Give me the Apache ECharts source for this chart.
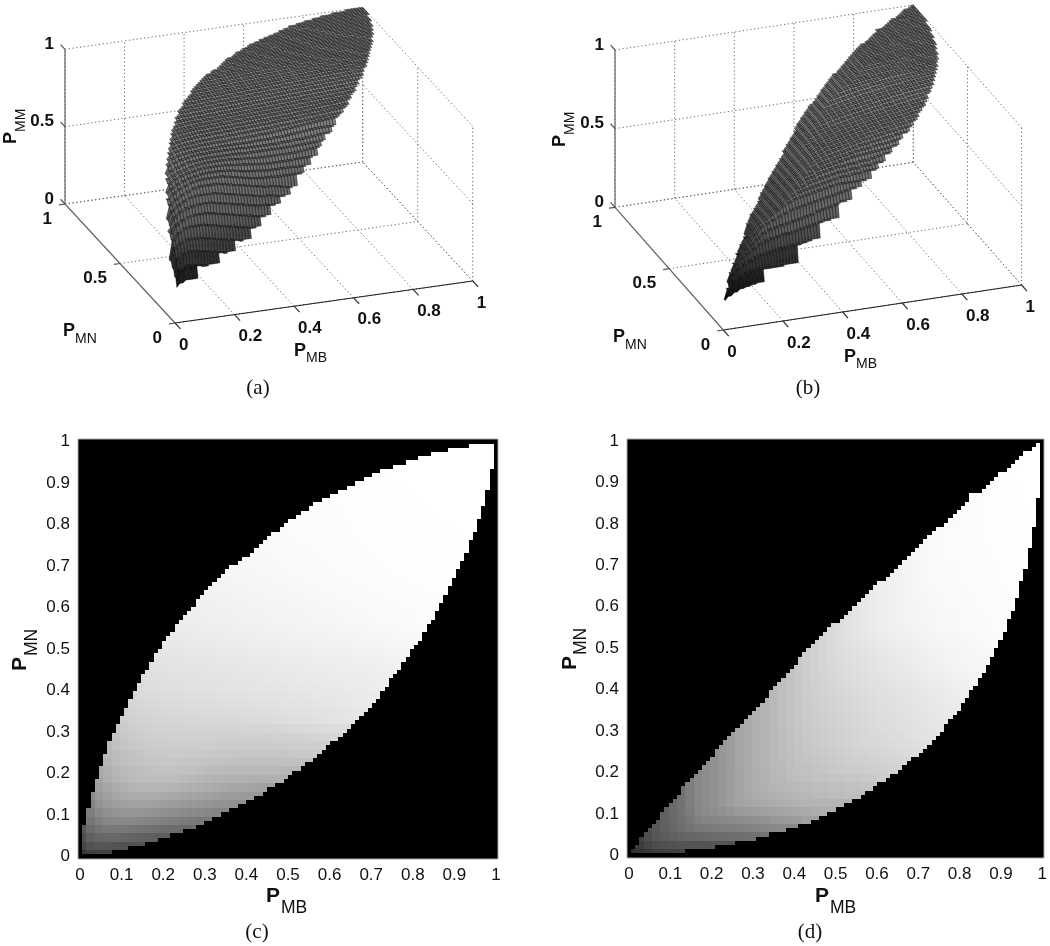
<!DOCTYPE html>
<html>
<head>
<meta charset="utf-8">
<title>P_MM surfaces</title>
<script src="https://cdn.jsdelivr.net/npm/echarts@6/dist/echarts.min.js"></script>
<style>
  html, body { margin: 0; padding: 0; background: #fff; }
  #chart { width: 1050px; height: 946px; }
</style>
</head>
<body>
<div id="chart"></div>
<script>
// tick labels
var flatTicks = [0, 0.1, 0.2, 0.3, 0.4, 0.5, 0.6, 0.7, 0.8, 0.9, 1];
var mbTicks = [0, 0.2, 0.4, 0.6, 0.8, 1];
var mnTicks = [0, 0.5, 1];
var mmTicks = [0, 0.5, 1];

// first and one-past-last filled row of each of the 100 columns
var hiC = [0,8,12,16,19,22,25,28,30,32,34,36,38,40,42,44,45,47,49,50,52,53,54,56,57,58,59,60,62,63,64,65,66,67,68,69,70,70,71,72,72,73,74,75,76,77,78,78,79,80,81,81,82,83,83,84,85,85,86,86,87,87,88,88,89,89,90,90,91,91,92,92,93,93,93,94,94,94,95,95,95,96,96,96,97,97,97,97,98,98,98,98,98,99,99,99,99,99,99,0];
var loC = [0,1,1,1,1,1,1,1,2,2,2,2,3,3,3,3,4,4,4,5,5,5,6,6,6,7,7,7,8,8,9,9,10,10,11,11,12,12,13,13,14,14,15,15,16,17,17,18,18,19,20,21,21,22,23,23,24,25,26,27,28,28,29,30,31,32,33,34,35,36,37,38,40,41,43,44,45,47,48,50,51,52,54,56,57,59,61,63,65,67,69,71,73,76,78,81,84,88,93,0];
// same for panel (d)
var hiD = [0,2,3,5,6,7,8,9,11,12,13,14,15,17,18,19,20,21,22,23,24,26,27,28,29,30,31,32,33,34,35,36,37,38,40,41,42,43,44,45,46,48,49,50,51,52,53,54,55,56,56,57,58,59,60,61,62,63,64,65,66,66,67,68,69,70,71,72,73,74,75,76,77,78,79,79,80,81,82,83,84,85,87,87,87,88,89,90,91,92,92,93,94,95,96,97,97,98,99,0];
var loD = [0,1,1,1,1,1,1,1,1,1,1,1,1,1,2,2,2,2,2,2,2,3,3,3,3,3,4,4,4,4,4,5,5,5,6,6,6,6,7,7,7,8,8,8,9,9,10,10,11,11,12,12,13,13,14,14,15,16,16,17,18,18,19,20,20,21,22,23,24,24,25,26,27,28,29,30,32,33,34,35,37,38,40,41,43,44,46,48,50,52,54,57,59,62,66,69,74,79,86,0];

// grey readings (hex, 00-ff = 0-1) in 2x2 blocks, bottom row first; each row starts at its listed block
var startC = [0,0,0,0,1,1,1,1,2,2,2,3,3,3,4,4,5,5,6,6,7,7,8,8,9,10,10,11,12,13,14,14,15,16,17,19,20,21,22,23,25,26,28,30,32,34,36,39,42,46];
var greyC = [
  '38 3e 42 42',
  '46 52 56 56 54 52',
  '50 60 66 68 68 66 64 62 60 5e',
  '58 6c 74 78 78 78 76 74 72 70 6e 6c 6a',
  '76 80 86 88 88 88 86 84 82 80 7e 7c 7a 78',
  '7e 8a 90 94 96 96 96 94 92 90 8e 8c 8a 88 86 84',
  '84 92 9a 9e a0 a2 a2 a2 a0 9e 9c 9a 98 96 94 92 92 90',
  '8a 98 a0 a6 aa ac ac ac ac aa a8 a6 a4 a2 a0 9e 9c 9c 9a 98',
  '9e a6 ac b0 b4 b6 b6 b6 b6 b4 b2 b0 ae ac aa a8 a6 a6 a4 a2 a0',
  'a4 ac b2 b6 ba bc bd bd bd bd bb b9 b7 b5 b3 b2 b1 b1 b0 b0 b0 b0 b0',
  'a8 b0 b6 ba bd bf c1 c2 c2 c2 c1 c0 be bc bb ba b9 b8 b8 b8 b8 b8 b7 b7',
  'b4 ba be c1 c3 c5 c6 c6 c6 c6 c5 c4 c3 c2 c1 c0 bf bf bf bf bf c0 c0 c0',
  'b8 bc c0 c3 c6 c8 c9 ca ca ca ca c9 c8 c8 c7 c6 c6 c6 c6 c6 c6 c6 c7 c8 c9 ca',
  'ba c0 c4 c7 ca cb cc cd cd cd cd cd cd cc cc cc cc cc cc cc cc cc cd cd ce ce cf',
  'c4 c8 cb cd cf d0 d0 d1 d1 d1 d1 d1 d1 d0 d0 d0 d0 d0 d0 d1 d1 d2 d2 d3 d4 d5 d6',
  'c8 cb ce d0 d1 d2 d3 d3 d3 d4 d4 d4 d4 d4 d4 d5 d5 d5 d6 d6 d7 d8 d9 da db dc dc dc',
  'ce d1 d3 d4 d5 d6 d6 d7 d7 d7 d8 d8 d8 d9 d9 da da db dc dd de df e0 e1 e2 e3 e4 e5',
  'd0 d3 d5 d6 d7 d8 d9 d9 da da db db dc dc dd dd de de df e0 e0 e1 e2 e3 e3 e4 e5 e6 e6',
  'd5 d7 d9 da db dc dc dd dd de de df df e0 e0 e1 e1 e2 e3 e3 e4 e4 e5 e6 e6 e7 e8 e9 ea',
  'd6 d9 db dc dd de de df df e0 e0 e1 e1 e2 e2 e3 e3 e4 e4 e5 e5 e6 e7 e7 e8 e8 e9 ea ea eb',
  'db dd de df e0 e0 e1 e1 e2 e2 e3 e3 e4 e4 e5 e5 e6 e6 e7 e7 e8 e8 e9 e9 ea eb eb ec ed ee',
  'dc de df e0 e1 e2 e2 e3 e3 e4 e4 e5 e5 e6 e6 e7 e7 e8 e8 e9 e9 ea ea eb eb ec ec ed ed ee ef',
  'e0 e1 e2 e3 e3 e4 e4 e5 e5 e6 e6 e7 e7 e8 e8 e9 e9 ea ea eb eb ec ec ed ed ee ee ef ef f0 f0',
  'e2 e3 e4 e4 e5 e5 e6 e6 e7 e7 e8 e8 e9 e9 ea ea eb eb ec ec ed ed ee ee ef ef f0 f0 f1 f1 f2',
  'e5 e6 e6 e7 e7 e8 e8 e9 e9 ea ea eb eb ec ec ed ed ee ee ef ef f0 f0 f1 f1 f2 f2 f3 f3 f4 f4',
  'e8 e8 e9 e9 ea ea eb eb ec ec ed ed ee ee ef ef f0 f0 f1 f1 f2 f2 f3 f3 f4 f4 f5 f5 f6 f6',
  'e9 ea ea eb eb ec ec ed ed ee ee ef ef f0 f0 f1 f1 f2 f2 f3 f3 f4 f4 f5 f5 f6 f6 f7 f7 f8 f8',
  'eb ec ec ed ed ee ee ef ef f0 f0 f1 f1 f2 f2 f3 f3 f4 f4 f5 f5 f6 f6 f7 f7 f8 f8 f9 f9 fa fa',
  'ed ee ee ef ef f0 f0 f1 f1 f2 f2 f3 f3 f4 f4 f5 f5 f6 f6 f7 f7 f8 f8 f9 f9 fa fa fa fb fb',
  'ef ef f0 f0 f1 f1 f2 f2 f3 f3 f4 f4 f5 f5 f6 f6 f7 f7 f8 f8 f9 f9 fa fa fa fb fb fb fc fc',
  'f0 f1 f1 f2 f2 f3 f3 f4 f4 f5 f5 f6 f6 f7 f7 f8 f8 f9 f9 fa fa fa fb fb fb fc fc fc fc',
  'f1 f2 f2 f3 f3 f4 f4 f5 f5 f6 f6 f7 f7 f8 f8 f9 f9 fa fa fa fb fb fb fc fc fc fc fd fd fd',
  'f3 f3 f4 f4 f5 f5 f6 f6 f7 f7 f8 f8 f9 f9 fa fa fa fb fb fb fc fc fc fc fd fd fd fd fd',
  'f4 f5 f5 f6 f6 f7 f7 f8 f8 f9 f9 fa fa fa fb fb fb fc fc fc fc fd fd fd fd fd fd fe fe',
  'f5 f6 f6 f7 f7 f8 f8 f9 f9 fa fa fa fb fb fb fc fc fc fc fd fd fd fd fd fd fe fe fe',
  'f7 f7 f8 f8 f9 f9 fa fa fa fb fb fb fc fc fc fc fd fd fd fd fd fe fe fe fe fe fe',
  'f8 f8 f9 f9 fa fa fa fb fb fb fc fc fc fc fd fd fd fd fd fe fe fe fe fe fe fe',
  'f9 f9 fa fa fa fb fb fb fc fc fc fc fd fd fd fd fd fe fe fe fe fe fe fe fe fe',
  'fa fa fa fb fb fb fc fc fc fc fd fd fd fd fd fe fe fe fe fe fe fe fe fe ff',
  'fa fa fb fb fb fc fc fc fc fd fd fd fd fd fe fe fe fe fe fe fe fe ff ff ff',
  'fb fb fc fc fc fc fd fd fd fd fd fe fe fe fe fe fe fe ff ff ff ff ff',
  'fb fc fc fc fc fd fd fd fd fd fe fe fe fe fe fe ff ff ff ff ff ff',
  'fc fc fd fd fd fd fd fe fe fe fe fe fe ff ff ff ff ff ff ff ff',
  'fd fd fd fd fe fe fe fe fe fe ff ff ff ff ff ff ff ff ff',
  'fd fd fe fe fe fe fe ff ff ff ff ff ff ff ff ff ff',
  'fe fe fe ff ff ff ff ff ff ff ff ff ff ff ff',
  'ff ff ff ff ff ff ff ff ff ff ff ff ff',
  'ff ff ff ff ff ff ff ff ff ff ff',
  'ff ff ff ff ff ff ff ff',
  'ff ff ff ff'
];
var startD = [0,1,1,2,3,4,5,6,6,7,8,9,10,11,12,13,14,15,16,17,17,18,19,20,21,22,23,24,25,26,27,28,29,31,32,33,34,35,36,37,38,39,40,41,42,43,45,46,47,49];
var greyD = [
  '2d 33 38 3c 3e 40 42',
  '3c 46 4c 50 52 54 54 54 54 54',
  '42 4e 56 5c 60 64 66 68 6a 6c 6c 6e 6e 70 72',
  '4e 58 60 68 6e 74 78 7a 7c 7e 7e 80 82 84 86 88 8a',
  '58 62 6a 70 78 80 84 86 88 8a 8c 8e 90 92 96 98 9a 9c a0',
  '60 6a 72 7c 86 8a 8e 92 96 9a 9c 9e a0 a2 a4 a6 a8 aa ac ae',
  '69 72 7e 88 8c 92 98 9e a2 a6 a8 aa ac ae b0 b2 b4 b4 b4 b4 b4',
  '70 7e 88 8c 92 98 9e a4 a8 ac ae b0 b2 b4 b6 b8 ba ba bc bc be be',
  '70 7e 88 8c 92 98 9e a4 aa ae b0 b4 b6 b8 ba bc be be c0 c0 c2 c2 c4 c4',
  '7e 88 8c 92 98 9e a4 aa ae b2 b6 b8 bc be c0 c2 c2 c4 c4 c6 c6 c8 ca cc',
  '87 8c 92 98 9e a5 aa af b3 b8 ba be c0 c2 c4 c6 c8 ca cb cc cd ce cf d0 d2',
  '8c 92 98 9e a5 aa af b4 b8 bc be c2 c4 c6 c8 ca cc ce cf d0 d2 d3 d4 d6 d7',
  '91 98 9e a5 aa af b4 b9 bd c0 c3 c6 c8 ca cc ce d0 d2 d3 d5 d6 d8 d9 db dc',
  '98 9e a5 aa af b4 b9 bd c1 c4 c7 ca cc ce d0 d2 d4 d6 d7 d9 da dc dd df e0',
  '9e a5 aa af b4 b9 bd c2 c5 c8 cb cd cf d1 d3 d5 d7 d9 da dc dd df e1 e2 e4',
  'a5 aa af b4 b9 be c2 c6 c9 cc ce d0 d2 d4 d6 d8 da dc dd df e0 e2 e3 e5 e6',
  'aa af b4 b9 be c2 c6 ca cc cf d1 d3 d5 d7 d9 db dd de e0 e1 e3 e4 e6 e7 e8',
  'af b4 b9 be c3 c7 ca cd d0 d2 d4 d6 d8 da dc de df e1 e2 e4 e5 e7 e8 ea eb',
  'b4 b9 be c3 c8 cb ce d1 d3 d5 d7 d9 db dd df e0 e2 e3 e5 e6 e8 e9 eb ec',
  'b9 be c3 c8 cc cf d2 d4 d6 d8 da dc de e0 e1 e3 e4 e6 e7 e9 ea ec ed ef',
  'b9 be c3 c8 cc d0 d3 d5 d8 da dc de e0 e1 e3 e5 e6 e8 e9 eb ec ee ef f0 f2',
  'be c3 c8 cd d1 d4 d7 da dc de e0 e2 e3 e5 e7 e8 ea eb ed ee f0 f1 f2 f3',
  'c3 c8 cd d1 d5 d8 db dd df e1 e3 e5 e7 e8 ea ec ed ef f0 f2 f3 f4 f5 f6',
  'c8 cd d1 d5 d9 dc de e0 e2 e4 e6 e8 ea eb ed ee f0 f1 f3 f4 f5 f6 f7 f8',
  'cd d1 d5 d9 dd df e1 e3 e5 e7 e9 eb ec ee ef f1 f2 f3 f5 f6 f7 f8 f9',
  'd1 d5 d9 dd e1 e3 e5 e7 e9 eb ed ee f0 f1 f3 f4 f5 f6 f7 f8 f9 fa fa',
  'd5 d9 dd e1 e5 e7 e9 eb ed ef f0 f2 f3 f4 f5 f6 f7 f8 f9 fa fa fb',
  'd9 dd e1 e5 e8 eb ed ef f0 f2 f3 f4 f6 f7 f8 f9 f9 fa fa fb fb fc',
  'dd e1 e5 e8 eb ee f0 f1 f3 f4 f5 f6 f7 f8 f9 fa fa fb fb fc fc',
  'e1 e5 e8 eb ee f0 f2 f3 f4 f6 f7 f8 f9 f9 fa fb fb fc fc fc',
  'e5 e8 eb ee f0 f2 f4 f5 f6 f7 f8 f9 fa fa fb fb fc fc fc fd',
  'e8 eb ee f0 f2 f4 f6 f7 f8 f9 fa fa fb fb fc fc fc fd fd',
  'eb ee f0 f2 f4 f6 f8 f9 fa fa fb fb fc fc fc fd fd fd',
  'f0 f2 f4 f6 f8 f9 fa fa fb fb fc fc fc fd fd fd fd',
  'f2 f4 f6 f8 f9 fa fa fb fb fc fc fc fd fd fd fd',
  'f4 f6 f8 f9 fa fb fb fc fc fc fd fd fd fd fe',
  'f6 f8 f9 fa fb fb fc fc fc fd fd fd fe fe',
  'f8 f9 fa fb fb fc fc fd fd fd fe fe fe fe',
  'f9 fa fb fb fc fc fd fd fd fe fe fe fe',
  'fa fb fb fc fc fd fd fe fe fe fe fe',
  'fa fb fc fc fd fd fe fe fe fe ff',
  'fb fc fc fd fd fe fe fe fe ff',
  'fb fc fd fd fe fe fe ff ff',
  'fc fd fd fe fe fe ff ff ff',
  'fc fd fe fe fe ff ff ff',
  'fd fe fe ff ff ff ff',
  'fe fe ff ff ff',
  'fe ff ff ff',
  'ff ff ff',
  'ff'
];

var sansFont = '"Liberation Sans", Arial, sans-serif';
var serifFont = '"Liberation Serif", "Times New Roman", serif';

function parseRows(rows) {
  return rows.map(function (r) {
    return r.split(' ').map(function (h) { return parseInt(h, 16) / 255; });
  });
}

var panelC = { hi: hiC, lo: loC, starts: startC, rows: parseRows(greyC) };
var panelD = { hi: hiD, lo: loD, starts: startD, rows: parseRows(greyD) };

function inDomain(panel, i, j) {
  return i >= 0 && i < 100 && j >= panel.lo[i] && j < panel.hi[i];
}

function greyAt(panel, i, j) {
  var r = j >> 1;
  var row = panel.rows[r];
  var k = Math.max(0, Math.min(row.length - 1, (i >> 1) - panel.starts[r]));
  return row[k];
}

function cellsOf(panel) {
  var out = [];
  for (var i = 0; i < 100; i++) {
    for (var j = panel.lo[i]; j < panel.hi[i]; j++) {
      out.push([i, j, greyAt(panel, i, j)]);
    }
  }
  return out;
}

// flat image panels (c) and (d)
function flatSeries(panel, gridIndex) {
  var half = 0.5 / 99;
  var pxRect = function (api, a, b, c, d) {
    var p0 = api.coord([a, d]);
    var p1 = api.coord([c, b]);
    var x0 = Math.round(p0[0]), y0 = Math.round(p0[1]);
    return { x: x0, y: y0, width: Math.round(p1[0]) - x0, height: Math.round(p1[1]) - y0 };
  };
  return [{
    type: 'custom',
    xAxisIndex: gridIndex,
    yAxisIndex: gridIndex,
    silent: true,
    data: [[0, 0]],
    renderItem: function (params, api) {
      return {
        type: 'rect',
        shape: pxRect(api, -half, -half, 1 + half, 1 + half),
        style: { fill: '#000', stroke: '#aaa', lineWidth: 1 }
      };
    }
  }, {
    type: 'custom',
    xAxisIndex: gridIndex,
    yAxisIndex: gridIndex,
    silent: true,
    progressive: 0,
    data: cellsOf(panel),
    renderItem: function (params, api) {
      var i = api.value(0), j = api.value(1);
      var g = Math.round(api.value(2) * 255);
      return {
        type: 'rect',
        shape: pxRect(api, (i - 0.5) / 99, (j - 0.5) / 99, (i + 0.5) / 99, (j + 0.5) / 99),
        style: { fill: 'rgb(' + g + ',' + g + ',' + g + ')' }
      };
    }
  }];
}

// 3d views are plain affine projections of the unit box onto a hidden 2d grid
function project(view, x, y, z) {
  return [view.u0 + view.ux * x + view.uy * y, view.vx * x + view.vy * y + view.vz * z];
}

function boxSegments() {
  var segs = [];
  mbTicks.forEach(function (t) {
    segs.push([t, 0, 0, t, 1, 0]);
    segs.push([t, 1, 0, t, 1, 1]);
  });
  mnTicks.forEach(function (t) {
    segs.push([0, t, 0, 1, t, 0]);
    segs.push([1, t, 0, 1, t, 1]);
  });
  mmTicks.forEach(function (t) {
    segs.push([0, 1, t, 1, 1, t]);
    segs.push([1, 0, t, 1, 1, t]);
  });
  return segs;
}

function surfaceQuads(panel) {
  var quads = [];
  cellsOf(panel).forEach(function (c) {
    var i = c[0], j = c[1], own = c[2];
    var zOf = function (a, b) { return inDomain(panel, a, b) ? greyAt(panel, a, b) : own; };
    quads.push([i, j, zOf(i, j), zOf(i + 1, j), zOf(i + 1, j + 1), zOf(i, j + 1), own]);
  });
  quads.sort(function (a, b) { return (b[0] + b[1]) - (a[0] + a[1]); });
  return quads;
}

function surfaceGrey(z) {
  var g = z < 0.5 ? 260 * z - 35 : 95 + 100 * (z - 0.5);
  return Math.round(Math.max(8, g));
}

function lineItem(view, api, p, q, style) {
  var a = project(view, p[0], p[1], p[2]);
  var b = project(view, q[0], q[1], q[2]);
  var ca = api.coord(a), cb = api.coord(b);
  return {
    type: 'line',
    shape: { x1: ca[0], y1: ca[1], x2: cb[0], y2: cb[1] },
    style: style
  };
}

function solidSegments() {
  var segs = [
    [0, 0, 0, 1, 0, 0, '#222'],
    [0, 0, 0, 0, 1, 0, '#666'],
    [0, 1, 0, 0, 1, 1, '#666']
  ];
  mbTicks.forEach(function (t) { segs.push([t, 0, 0, t, -0.05, 0, '#333']); });
  mnTicks.forEach(function (t) { segs.push([0, t, 0, -0.02, t, 0, '#555']); });
  mmTicks.forEach(function (t) { segs.push([0, 1, t, 0, 1.04, t, '#555']); });
  return segs;
}

function tickLabelData() {
  var out = [];
  mbTicks.forEach(function (t) { out.push([t, 0, 0, 4, 22, 'left', String(t)]); });
  mnTicks.forEach(function (t) { out.push([0, t, 0, -13, 15, 'right', String(t)]); });
  mmTicks.forEach(function (t) { out.push([0, 1, t, -11, -5, 'right', String(t)]); });
  return out;
}

function volumeSeries(panel, view, gridIndex) {
  var base = { type: 'custom', xAxisIndex: gridIndex, yAxisIndex: gridIndex, silent: true, progressive: 0 };
  var dotted = Object.assign({}, base, {
    data: boxSegments(),
    renderItem: function (params, api) {
      return lineItem(view, api,
        [api.value(0), api.value(1), api.value(2)],
        [api.value(3), api.value(4), api.value(5)],
        { stroke: '#666', lineWidth: 1, lineDash: [1.2, 2.6] });
    }
  });
  var surface = Object.assign({}, base, {
    data: surfaceQuads(panel),
    renderItem: function (params, api) {
      var i = api.value(0), j = api.value(1);
      var corners = [[i, j, 2], [i + 1, j, 3], [i + 1, j + 1, 4], [i, j + 1, 5]];
      var points = corners.map(function (c) {
        return api.coord(project(view, c[0] / 99, c[1] / 99, api.value(c[2])));
      });
      var g = surfaceGrey(api.value(6));
      return {
        type: 'polygon',
        shape: { points: points },
        style: { fill: 'rgb(' + g + ',' + g + ',' + g + ')', stroke: '#000', lineWidth: 0.45 }
      };
    }
  });
  var solid = solidSegments();
  var axes = Object.assign({}, base, {
    data: solid.map(function (s, k) { return [s[0], s[1], s[2], s[3], s[4], s[5], k]; }),
    renderItem: function (params, api) {
      return lineItem(view, api,
        [api.value(0), api.value(1), api.value(2)],
        [api.value(3), api.value(4), api.value(5)],
        { stroke: solid[api.value(6)][6], lineWidth: 1.2 });
    }
  });
  var tickData = tickLabelData();
  var labels = Object.assign({}, base, {
    data: tickData.map(function (t, k) { return [t[0], t[1], t[2], k]; }),
    renderItem: function (params, api) {
      var t = tickData[api.value(3)];
      var p = api.coord(project(view, api.value(0), api.value(1), api.value(2)));
      return {
        type: 'text',
        style: {
          text: t[6], x: p[0] + t[3], y: p[1] + t[4], align: t[5], verticalAlign: 'middle',
          font: 'bold 17px ' + sansFont, fill: '#111'
        }
      };
    }
  });
  return [dotted, surface, axes, labels];
}

// subscripted axis names
function axisName(x, y, sub, vertical, mainSize, subSize, shift, drop) {
  var main = 'bold ' + mainSize + 'px ' + sansFont;
  var small = subSize + 'px ' + sansFont;
  var a = 0.35;
  if (vertical) {
    return [
      { type: 'text', x: x - a * mainSize, y: y, rotation: Math.PI / 2, style: { text: 'P', font: main, fill: '#111', verticalAlign: 'middle' } },
      { type: 'text', x: x + drop - a * subSize, y: y - shift, rotation: Math.PI / 2, style: { text: sub, font: small, fill: '#111', verticalAlign: 'middle' } }
    ];
  }
  return [
    { type: 'text', x: x, y: y - a * mainSize, style: { text: 'P', font: main, fill: '#111', verticalAlign: 'middle' } },
    { type: 'text', x: x + shift, y: y + drop - a * subSize, style: { text: sub, font: small, fill: '#111', verticalAlign: 'middle' } }
  ];
}

function caption(text, x, y) {
  return { type: 'text', x: x, y: y, style: { text: text, font: '21px ' + serifFont, fill: '#111', align: 'center', verticalAlign: 'middle' } };
}

var viewA = { left: 65, top: 7.3, width: 407.7, height: 315.7, u0: 110, ux: 297.7, uy: -110, vx: 42, vy: 119, vz: 154.7 };
var viewB = { left: 615, top: 5, width: 406.6, height: 325, u0: 108.3, ux: 298.3, uy: -108.3, vx: 45, vy: 122.7, vz: 157.3 };
var flatC = { left: 80, top: 441.5, width: 416, height: 415 };
var flatD = { left: 629, top: 441, width: 415, height: 414.5 };

function volumeAxis(max) {
  return { type: 'value', min: 0, max: max, show: false };
}

function flatAxis(gridIndex) {
  return {
    type: 'value', gridIndex: gridIndex, min: 0, max: 1, interval: 0.1,
    axisLine: { show: false }, axisTick: { show: false }, splitLine: { show: false },
    axisLabel: {
      margin: 10, fontFamily: sansFont, fontSize: 17, color: '#111', hideOverlap: false,
      formatter: function (v) { return String(flatTicks[Math.round(v * 10)]); }
    }
  };
}

var names = [].concat(
  axisName(63, 337, 'MN', false, 18, 14, 12, 7),
  axisName(294, 357, 'MB', false, 18, 14, 12, 6),
  axisName(17.5, 144, 'MM', true, 18, 14, 12, 9),
  axisName(613, 343, 'MN', false, 18, 14, 12, 7),
  axisName(844, 363, 'MB', false, 18, 14, 12, 6),
  axisName(566, 147, 'MM', true, 18, 14, 12, 9),
  axisName(266, 904, 'MB', false, 21, 17.5, 15, 10),
  axisName(28, 671, 'MN', true, 21, 17.5, 15, 10),
  axisName(815, 904, 'MB', false, 21, 17.5, 15, 10),
  axisName(577.5, 670, 'MN', true, 21, 17.5, 15, 10),
  [caption('(a)', 258, 388), caption('(b)', 808, 388), caption('(c)', 257, 932), caption('(d)', 810, 932)]
);

var myChart = echarts.init(document.getElementById('chart'), null, { renderer: 'canvas' });
myChart.setOption({
  animation: false,
  backgroundColor: '#fff',
  grid: [flatC, flatD, viewA, viewB].map(function (g) {
    return { left: g.left, top: g.top, width: g.width, height: g.height, containLabel: false };
  }),
  xAxis: [
    flatAxis(0), flatAxis(1),
    Object.assign(volumeAxis(viewA.width), { gridIndex: 2 }),
    Object.assign(volumeAxis(viewB.width), { gridIndex: 3 })
  ],
  yAxis: [
    flatAxis(0), flatAxis(1),
    Object.assign(volumeAxis(viewA.height), { gridIndex: 2 }),
    Object.assign(volumeAxis(viewB.height), { gridIndex: 3 })
  ],
  series: [].concat(
    flatSeries(panelC, 0),
    flatSeries(panelD, 1),
    volumeSeries(panelC, viewA, 2),
    volumeSeries(panelD, viewB, 3)
  ),
  graphic: { elements: names }
});
</script>
</body>
</html>
